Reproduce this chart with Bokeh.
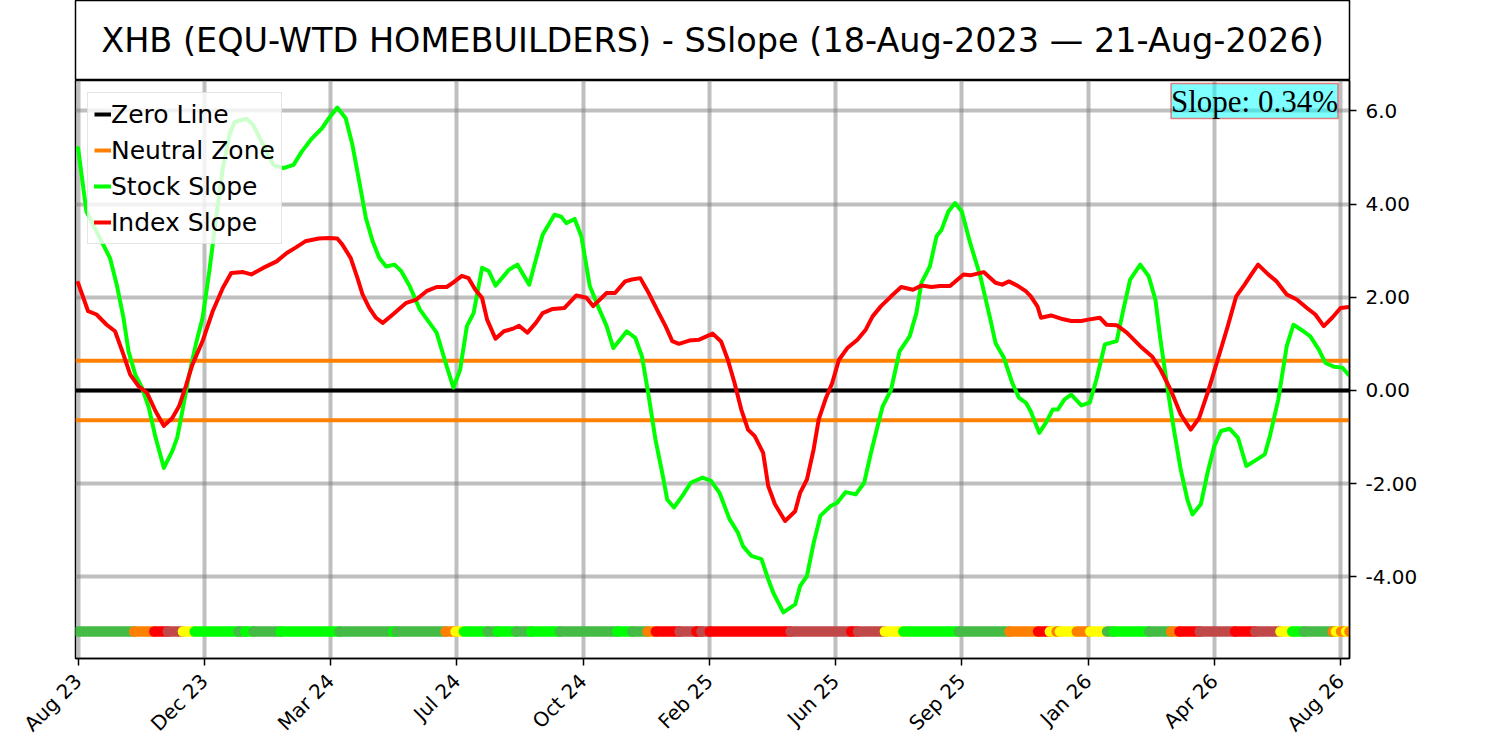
import math
from bokeh.plotting import figure
from bokeh.layouts import column
from bokeh.models import FixedTicker, Label, Range1d
from bokeh.embed import file_html
from bokeh.resources import INLINE
from bokeh.core.properties import value

# ---------------- data ----------------
title_text = "XHB (EQU-WTD HOMEBUILDERS) - SSlope (18-Aug-2023 \u2014 21-Aug-2026)"
tick_labels = ["Aug 23", "Dec 23", "Mar 24", "Jul 24", "Oct 24", "Feb 25",
               "Jun 25", "Sep 25", "Jan 26", "Apr 26", "Aug 26"]
tick_step = 75            # trading days between date labels
x_lo, x_hi = -1.5, 755.3  # trading-day index range shown
y_lo, y_hi = -5.75, 6.65
y_ticks = [-4, -2, 0, 2, 4, 6]
y_tick_labels = ["-4.00", "-2.00", "0.00", "2.00", "4.00", "6.0"]
neutral = 0.64
slope_text = "Slope: 0.34%"
strip_level = -5.17

stock_day = [0, 5, 19, 23, 27, 30, 34, 38, 42, 46, 51, 56, 59, 62, 66, 70, 74, 78, 82, 86,
             90, 93, 100, 104, 110, 116, 122, 128, 133, 139, 145, 149, 154, 159, 163, 167,
             171, 175, 179, 183, 188, 192, 197, 203, 213, 219, 223, 227, 231, 235, 240,
             244, 248, 256, 261, 268, 272, 276, 283, 287, 290, 295, 299, 304, 308, 314,
             318, 326, 331, 335, 339, 343, 347, 350, 354, 359, 364, 371, 376, 381, 387,
             392, 395, 400, 406, 410, 413, 419, 426, 429, 433, 437, 441, 447, 451, 456,
             462, 467, 471, 475, 478, 483, 488, 494, 498, 501, 506, 510, 513, 517, 521,
             525, 530, 536, 542, 545, 550, 555, 559, 563, 566, 571, 575, 579, 582, 586,
             590, 596, 601, 605, 610, 617, 621, 625, 631, 636, 640, 643, 647, 651, 655,
             659, 662, 667, 671, 675, 679, 684, 689, 694, 699, 705, 708, 713, 718, 722,
             728, 732, 737, 741, 746, 751, 755]
stock_slope = [5.20, 3.84, 2.84, 2.27, 1.56, 0.84, 0.34, 0.06, -0.36, -1.00, -1.66, -1.30,
               -1.00, -0.44, 0.34, 0.99, 1.56, 2.56, 3.70, 4.77, 5.49, 5.76, 5.83, 5.70,
               5.27, 4.84, 4.77, 4.84, 5.13, 5.41, 5.63, 5.84, 6.07, 5.84, 5.27, 4.49,
               3.70, 3.20, 2.84, 2.66, 2.70, 2.56, 2.24, 1.74, 1.24, 0.52, 0.06, 0.45,
               1.38, 1.66, 2.63, 2.56, 2.25, 2.59, 2.70, 2.27, 2.81, 3.34, 3.77, 3.73,
               3.59, 3.68, 3.31, 2.24, 1.88, 1.38, 0.91, 1.27, 1.13, 0.73, -0.12, -1.05,
               -1.76, -2.34, -2.51, -2.26, -1.98, -1.87, -1.94, -2.19, -2.76, -3.05,
               -3.34, -3.55, -3.62, -4.05, -4.34, -4.76, -4.59, -4.19, -3.98, -3.27,
               -2.69, -2.48, -2.41, -2.18, -2.23, -1.98, -1.34, -0.76, -0.34, 0.02, 0.84,
               1.16, 1.66, 2.31, 2.66, 3.31, 3.45, 3.84, 4.02, 3.84, 3.16, 2.45, 1.52,
               1.02, 0.70, 0.16, -0.16, -0.26, -0.45, -0.91, -0.69, -0.41, -0.41, -0.19,
               -0.09, -0.32, -0.26, 0.24, 0.99, 1.06, 1.74, 2.38, 2.70, 2.45, 1.95, 1.09,
               0.09, -0.84, -1.69, -2.34, -2.66, -2.44, -1.76, -1.19, -0.87, -0.82, -1.01,
               -1.62, -1.51, -1.37, -0.98, -0.19, 0.95, 1.41, 1.27, 1.16, 0.88, 0.59, 0.51,
               0.49, 0.33]

index_day = [0, 6, 11, 17, 22, 27, 31, 36, 41, 46, 51, 56, 60, 64, 68, 74, 80, 86, 91, 98,
             103, 110, 118, 124, 129, 135, 143, 149, 154, 157, 162, 166, 169, 173, 177,
             181, 187, 195, 201, 207, 213, 219, 223, 228, 232, 236, 240, 243, 248, 253,
             258, 262, 267, 272, 276, 282, 289, 296, 302, 306, 314, 319, 325, 329, 334,
             339, 345, 349, 353, 357, 363, 369, 377, 382, 386, 390, 394, 398, 402, 407,
             410, 414, 420, 426, 429, 433, 437, 440, 444, 448, 452, 457, 463, 468, 472,
             477, 483, 489, 496, 501, 507, 512, 518, 526, 530, 538, 545, 549, 553, 558,
             563, 566, 570, 572, 578, 584, 590, 596, 600, 607, 611, 617, 623, 631, 638,
             643, 649, 655, 661, 666, 671, 677, 683, 688, 693, 697, 701, 707, 712, 718,
             724, 730, 735, 740, 745, 750, 755]
index_slope = [2.31, 1.70, 1.63, 1.41, 1.27, 0.77, 0.34, 0.09, -0.05, -0.44, -0.76, -0.59,
               -0.34, 0.09, 0.56, 1.06, 1.70, 2.20, 2.52, 2.54, 2.49, 2.63, 2.77, 2.95,
               3.06, 3.20, 3.26, 3.27, 3.26, 3.13, 2.84, 2.41, 2.06, 1.77, 1.56, 1.45,
               1.63, 1.88, 1.95, 2.13, 2.22, 2.22, 2.32, 2.46, 2.41, 2.16, 1.99, 1.52,
               1.11, 1.27, 1.32, 1.39, 1.24, 1.45, 1.66, 1.75, 1.77, 2.04, 1.99, 1.81,
               2.09, 2.09, 2.34, 2.38, 2.41, 2.09, 1.66, 1.38, 1.06, 1.00, 1.07, 1.09,
               1.22, 1.05, 0.66, 0.16, -0.41, -0.84, -0.98, -1.34, -2.05, -2.44, -2.80,
               -2.59, -2.19, -1.91, -1.26, -0.62, -0.19, 0.16, 0.66, 0.91, 1.09, 1.31,
               1.59, 1.81, 2.02, 2.22, 2.16, 2.25, 2.22, 2.24, 2.24, 2.49, 2.47, 2.54,
               2.31, 2.27, 2.34, 2.25, 2.13, 2.02, 1.80, 1.56, 1.61, 1.54, 1.49, 1.49,
               1.52, 1.56, 1.41, 1.40, 1.24, 0.95, 0.73, 0.45, 0.02, -0.51, -0.84, -0.59,
               -0.05, 0.66, 1.38, 2.02, 2.27, 2.49, 2.70, 2.49, 2.34, 2.06, 1.95, 1.77,
               1.63, 1.38, 1.56, 1.77, 1.79]

# status strip: day where each colour run begins, and its state
strip_start = [0, 30, 42, 50, 59, 66, 92, 96, 101, 117, 152, 184, 186, 215, 221, 226,
               240, 246, 257, 266, 283, 317, 326, 335, 340, 354, 364, 367, 372, 420, 456,
               460, 476, 487, 520, 550, 567, 574, 578, 580, 590, 598, 608, 612, 633, 646,
               651, 663, 684, 696, 711, 718, 725, 742, 744, 747, 750, 752]
strip_state = ["UF", "N", "DF", "DR", "NR", "UR", "UF", "UR", "UF", "UR", "UF", "UR",
               "UF", "N", "NR", "UR", "UF", "UR", "UF", "UR", "UF", "UR", "UF", "N", "DF",
               "DR", "DF", "DR", "DF", "DR", "DF", "DR", "NR", "UR", "UF", "N", "DF", "NR",
               "N", "NR", "N", "NR", "UF", "UR", "UF", "N", "DF", "DR", "DF", "DR", "NR",
               "UR", "UF", "N", "NR", "N", "NR", "N"]
state_colors = {"UR": "#00ff00", "UF": "#44bb44", "N": "#ff8000", "NR": "#ffff00",
                "DF": "#ff0000", "DR": "#c04848"}

# ---------------- title box ----------------
t = figure(frame_width=1274, frame_height=80, x_range=Range1d(0, 1), y_range=Range1d(0, 1),
           x_axis_type=None, y_axis_type=None, toolbar_location=None, output_backend="svg",
           min_border_left=75, min_border_right=10, min_border_top=0, min_border_bottom=0)
t.outline_line_color = "black"
t.outline_line_width = 1.5
t.grid.visible = False
t.text(x=[0.5], y=[0.5], text=[title_text], text_align="center", text_baseline="middle",
       text_font=value("DejaVu Sans"), text_font_size=value("33.5px"), text_color="black")

# ---------------- main chart ----------------
p = figure(frame_width=1274, frame_height=578, x_range=Range1d(x_lo, x_hi),
           y_range=Range1d(y_lo, y_hi), y_axis_location="right", toolbar_location=None,
           output_backend="svg", min_border_left=75, min_border_right=10,
           min_border_top=0, min_border_bottom=0)
p.outline_line_color = "black"
p.outline_line_width = 1.5

x_ticks = [i * tick_step for i in range(len(tick_labels))]
p.xaxis.ticker = FixedTicker(ticks=x_ticks)
p.xaxis.major_label_overrides = {x: lab for x, lab in zip(x_ticks, tick_labels)}
p.xaxis.major_label_orientation = math.pi / 4
p.yaxis.ticker = FixedTicker(ticks=y_ticks)
p.yaxis.major_label_overrides = {y: lab for y, lab in zip(y_ticks, y_tick_labels)}
for ax in (p.xaxis, p.yaxis):
    ax.major_label_text_font = "DejaVu Sans"
    ax.major_label_text_font_size = "20px"
    ax.major_label_text_color = "black"
    ax.axis_line_color = "black"
    ax.axis_line_width = 1.5
    ax.major_tick_line_color = "black"
    ax.major_tick_line_width = 1.5
    ax.major_tick_in = 0
    ax.major_tick_out = 7
    ax.minor_tick_line_color = None
p.yaxis.major_label_standoff = 9
p.xaxis.major_label_standoff = 12

p.xgrid.ticker = FixedTicker(ticks=x_ticks)
p.ygrid.ticker = FixedTicker(ticks=y_ticks)
p.grid.grid_line_color = "gray"
p.grid.grid_line_alpha = 0.5
p.grid.grid_line_width = 4

p.line(x=[x_lo, x_hi], y=[0, 0], line_color="black", line_width=4, legend_label="Zero Line")
p.multi_line(xs=[[x_lo, x_hi], [x_lo, x_hi]], ys=[[neutral, neutral], [-neutral, -neutral]],
             line_color="#ff8000", line_width=4, legend_label="Neutral Zone")
p.line(x=stock_day, y=stock_slope, line_color="#00ff00", line_width=4,
       line_join="round", line_cap="round", legend_label="Stock Slope")
p.line(x=index_day, y=index_slope, line_color="#ff0000", line_width=4,
       line_join="round", line_cap="round", legend_label="Index Slope")

r = 3.3
seg_x0 = [strip_start[0]] + [s + r for s in strip_start[1:]]
seg_x1 = [s + r for s in strip_start[1:]] + [x_hi]
p.segment(x0=seg_x0, y0=[strip_level] * len(seg_x0), x1=seg_x1, y1=[strip_level] * len(seg_x1),
          line_color=[state_colors[s] for s in strip_state], line_width=10.5, line_cap="round")

p.add_layout(Label(x=748.5, y=6.585, text=slope_text, text_align="right", text_baseline="top",
                   text_font="Liberation Serif", text_font_size="31px", text_color="black",
                   background_fill_color="cyan", background_fill_alpha=0.5,
                   border_line_color="red", border_line_alpha=0.5, border_line_width=1.5,
                   padding=0))

lg = p.legend[0]
lg.location = "top_left"
lg.margin = 12
lg.padding = 6
lg.spacing = 6
lg.glyph_width = 17
lg.glyph_height = 30
lg.label_height = 30
lg.label_standoff = 0
lg.label_text_font = "DejaVu Sans"
lg.label_text_font_size = "25px"
lg.label_text_color = "black"
lg.background_fill_alpha = 0.8
lg.border_line_color = "#cccccc"
lg.border_line_width = 1.5

layout = column(t, p)
open("out.html", "w").write(file_html(layout, INLINE))
